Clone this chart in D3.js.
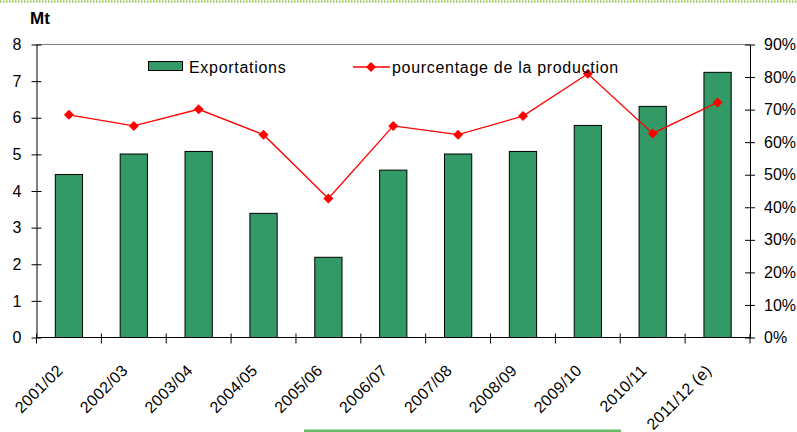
<!DOCTYPE html>
<html>
<head>
<meta charset="utf-8">
<script src="https://cdn.jsdelivr.net/npm/d3@7"></script>
<style>
  body { margin: 0; background: #fff; }
  svg { display: block; font-family: "Liberation Sans", Arial, sans-serif; }
</style>
</head>
<body>
<div id="chart"></div>
<script>
// campaigns (x axis)
let campagnes = ["2001/02", "2002/03", "2003/04", "2004/05", "2005/06", "2006/07",
                 "2007/08", "2008/09", "2009/10", "2010/11", "2011/12 (e)"];
// exports in Mt (left axis)
let exportations = [4.45, 5.01, 5.08, 3.39, 2.19, 4.57, 5.01, 5.08, 5.79, 6.31, 7.24];
// share of production in % (right axis)
let pourcentage = [68.4, 65.0, 70.1, 62.3, 42.7, 65.0, 62.3, 68.0, 81.0, 62.7, 72.2];
let mtTicks = [0, 1, 2, 3, 4, 5, 6, 7, 8];
let pctTicks = [0, 10, 20, 30, 40, 50, 60, 70, 80, 90];

let W = 797, H = 432;
let margin = {top: 44.5, right: 47, bottom: 94.5, left: 36.5};
let width = W - margin.left - margin.right,
    height = H - margin.top - margin.bottom;

let svg = d3.select("#chart").append("svg")
    .attr("width", W)
    .attr("height", H);

// page decorations
svg.append("line")
    .attr("x1", 0).attr("x2", W).attr("y1", 1.5).attr("y2", 1.5)
    .attr("stroke", "#8dbf3f").attr("stroke-width", 2)
    .attr("stroke-dasharray", "1.5,1.5");
svg.append("line")
    .attr("x1", 304).attr("x2", 621).attr("y1", 431).attr("y2", 431)
    .attr("stroke", "#66bb6a").attr("stroke-width", 3);

let g = svg.append("g")
    .attr("transform", "translate(" + margin.left + "," + margin.top + ")");

let x = d3.scaleBand()
    .domain(campagnes)
    .range([0, width])
    .paddingInner(0.58)
    .paddingOuter(0.29);
let y = d3.scaleLinear().domain([0, 8]).range([height, 0]);
let y2 = d3.scaleLinear().domain([0, 90]).range([height, 0]);

// top frame line
g.append("line")
    .attr("x1", 0).attr("x2", width).attr("y1", 0).attr("y2", 0)
    .attr("stroke", "#808080").attr("stroke-width", 1);

// bars
g.selectAll(".bar")
    .data(exportations)
  .enter().append("rect")
    .attr("class", "bar")
    .attr("x", (d, i) => x(campagnes[i]))
    .attr("width", x.bandwidth())
    .attr("y", d => y(d))
    .attr("height", d => height - y(d))
    .attr("fill", "#339966")
    .attr("stroke", "#000")
    .attr("stroke-width", 1);

// percentage line
let cx = (d, i) => x(campagnes[i]) + x.bandwidth() / 2;
g.append("path")
    .datum(pourcentage)
    .attr("fill", "none")
    .attr("stroke", "#ff0000")
    .attr("stroke-width", 1.3)
    .attr("d", d3.line().x(cx).y(d => y2(d)));

// excel style diamond = square turned 45deg
let diamond = d3.symbol().type(d3.symbolSquare).size(50);
g.selectAll(".pt")
    .data(pourcentage)
  .enter().append("path")
    .attr("class", "pt")
    .attr("d", diamond)
    .attr("transform", (d, i) => "translate(" + cx(d, i) + "," + y2(d) + ") rotate(45)")
    .attr("fill", "#ff0000");

// axes
let fontSize = "16px";
let tickLen = 5;

let yAxis = g.append("g")
    .call(d3.axisLeft(y).tickValues(mtTicks).tickSizeInner(tickLen).tickSizeOuter(0).tickPadding(10));
yAxis.selectAll(".tick line").attr("x2", tickLen).attr("x1", -tickLen);

let y2Axis = g.append("g")
    .attr("transform", "translate(" + width + ",0)")
    .call(d3.axisRight(y2).tickValues(pctTicks).tickFormat(d => d + "%")
      .tickSizeInner(tickLen).tickSizeOuter(0).tickPadding(9));
y2Axis.selectAll(".tick line").attr("x1", -tickLen);

// x axis with ticks between categories
let boundaries = d3.range(campagnes.length + 1).map(i => i * x.step());
let xAxis = g.append("g").attr("transform", "translate(0," + height + ")");
xAxis.append("line")
    .attr("x1", 0).attr("x2", width)
    .attr("stroke", "#000");
xAxis.selectAll(".xt")
    .data(boundaries)
  .enter().append("line")
    .attr("x1", d => d).attr("x2", d => d)
    .attr("y1", -4).attr("y2", 6)
    .attr("stroke", "#000");
xAxis.selectAll(".xl")
    .data(campagnes)
  .enter().append("text")
    .attr("transform", d => "translate(" + (x(d) + x.bandwidth() / 2 - 5) + ",34) rotate(-45)")
    .attr("text-anchor", "end")
    .attr("font-size", fontSize)
    .attr("letter-spacing", "0.3px")
    .attr("fill", "#000")
    .text(d => d);

[yAxis, y2Axis].forEach(a => {
  a.select(".domain").attr("stroke", "#000");
  a.selectAll("text").attr("font-size", fontSize).attr("fill", "#000")
    .attr("font-family", "Liberation Sans, Arial, sans-serif");
  a.selectAll(".tick line").attr("stroke", "#000");
});

// unit label
svg.append("text")
    .attr("x", 30).attr("y", 24)
    .attr("font-size", "17px")
    .attr("font-weight", "bold")
    .text("Mt");

// legend
let leg = svg.append("g");
leg.append("rect")
    .attr("x", 148.5).attr("y", 61.5).attr("width", 34).attr("height", 9)
    .attr("fill", "#339966").attr("stroke", "#000");
leg.append("text")
    .attr("x", 189).attr("y", 72.5)
    .attr("font-size", fontSize)
    .attr("letter-spacing", "0.7px")
    .text("Exportations");
leg.append("line")
    .attr("x1", 353).attr("x2", 390).attr("y1", 67).attr("y2", 67)
    .attr("stroke", "#ff0000").attr("stroke-width", 1.3);
leg.append("path")
    .attr("d", diamond)
    .attr("transform", "translate(371,67) rotate(45)")
    .attr("fill", "#ff0000");
leg.append("text")
    .attr("x", 392).attr("y", 72.5)
    .attr("font-size", fontSize)
    .attr("letter-spacing", "0.7px")
    .text("pourcentage de la production");
</script>
</body>
</html>
